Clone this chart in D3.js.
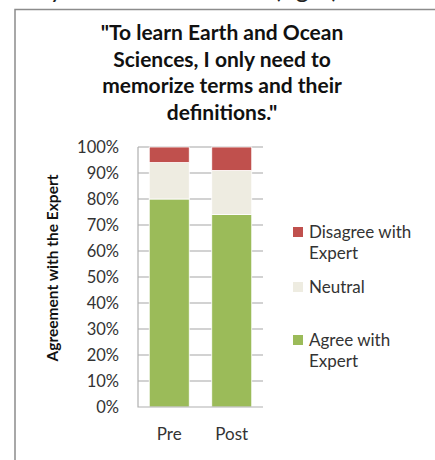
<!DOCTYPE html>
<html>
<head>
<meta charset="utf-8">
<script src="https://cdn.jsdelivr.net/npm/d3@7"></script>
<style>
  body { margin: 0; background: #fff; }
  svg { display: block; font-family: Lato, "Open Sans", sans-serif; }
</style>
</head>
<body>
<div id="chart"></div>
<script>
const categories = ["Pre", "Post"];
const seriesNames = ["Agree with Expert", "Neutral", "Disagree with Expert"];
const agree = [80, 74];
const neutral = [14, 17];
const disagree = [6, 9];
const yTicks = [0, 10, 20, 30, 40, 50, 60, 70, 80, 90, 100];
const titleLines = ["\"To learn Earth and Ocean", "Sciences, I only need to", "memorize terms and their", "definitions.\""];
const colors = ["#9bbb59", "#eeece1", "#c0504d"];

const svg = d3.select("#chart")
  .append("svg")
  .attr("width", 435)
  .attr("height", 460);

// cut-off sentence from the page above the chart
svg.append("text")
  .attr("x", 14)
  .attr("y", -2)
  .attr("font-size", 25)
  .attr("fill", "#222")
  .text("they started the course (right)");

// frame
svg.append("path")
  .attr("d", "M15,460 V9.5 H435")
  .attr("fill", "none")
  .attr("stroke", "#8c8c8c")
  .attr("stroke-width", 1.5);

svg.append("text")
  .attr("text-anchor", "middle")
  .attr("font-weight", "bold")
  .attr("font-size", 21)
  .attr("fill", "#111")
  .selectAll("tspan")
  .data(titleLines)
  .join("tspan")
  .attr("x", 222)
  .attr("y", (d, i) => 40 + i * 26.7)
  .text(d => d);

const x = d3.scaleBand()
  .domain(categories)
  .range([138, 263])
  .paddingInner(0.36)
  .paddingOuter(0.18);

const y = d3.scaleLinear()
  .domain([0, 100])
  .range([407, 147]);

// gridlines
svg.append("g")
  .selectAll("line")
  .data(yTicks.filter(d => d > 0))
  .join("line")
  .attr("x1", 138)
  .attr("x2", 263)
  .attr("y1", d => y(d))
  .attr("y2", d => y(d))
  .attr("stroke", "#a6a6a6")
  .attr("stroke-width", 1.2);

const table = categories.map((c, i) => ({ cat: c, agree: agree[i], neutral: neutral[i], disagree: disagree[i] }));
const stack = d3.stack().keys(["agree", "neutral", "disagree"])(table);

svg.append("g")
  .selectAll("g")
  .data(stack)
  .join("g")
  .attr("fill", (d, i) => colors[i])
  .selectAll("rect")
  .data(d => d)
  .join("rect")
  .attr("x", d => x(d.data.cat))
  .attr("width", x.bandwidth())
  .attr("y", d => y(d[1]))
  .attr("height", d => y(d[0]) - y(d[1]))
  .attr("stroke", "#fff")
  .attr("stroke-width", 0.8);

// axes lines
svg.append("path")
  .attr("d", "M138,147 V407 H263")
  .attr("fill", "none")
  .attr("stroke", "#b0b0b0")
  .attr("stroke-width", 1.2);

const yAxis = svg.append("g")
  .attr("transform", "translate(138,0)")
  .call(d3.axisLeft(y).tickValues(yTicks).tickFormat(d => d + "%").tickSize(0).tickPadding(19));
yAxis.select(".domain").remove();
yAxis.selectAll("text")
  .attr("font-family", "Lato, sans-serif")
  .attr("font-size", 16.5)
  .attr("fill", "#333");

const xAxis = svg.append("g")
  .attr("transform", "translate(0,407)")
  .call(d3.axisBottom(x).tickSize(0).tickPadding(21));
xAxis.select(".domain").remove();
xAxis.selectAll("text")
  .attr("font-family", "Lato, sans-serif")
  .attr("font-size", 17)
  .attr("fill", "#333");

svg.append("text")
  .attr("transform", "translate(58,268) rotate(-90)")
  .attr("text-anchor", "middle")
  .attr("font-weight", "bold")
  .attr("font-size", 15.5)
  .attr("fill", "#111")
  .text("Agreement with the Expert");

// legend
const legendItems = [
  { lines: ["Disagree with", "Expert"], color: colors[2], y: 227 },
  { lines: ["Neutral"], color: colors[1], y: 282 },
  { lines: ["Agree with", "Expert"], color: colors[0], y: 335 }
];
const lg = svg.append("g")
  .selectAll("g")
  .data(legendItems)
  .join("g")
  .attr("transform", d => `translate(293,${d.y})`);
lg.append("rect")
  .attr("width", 10)
  .attr("height", 10)
  .attr("fill", d => d.color);
lg.append("text")
  .attr("font-size", 17)
  .attr("fill", "#333")
  .selectAll("tspan")
  .data(d => d.lines)
  .join("tspan")
  .attr("x", 16)
  .attr("y", (d, i) => 11 + i * 21)
  .text(d => d);
</script>
</body>
</html>
